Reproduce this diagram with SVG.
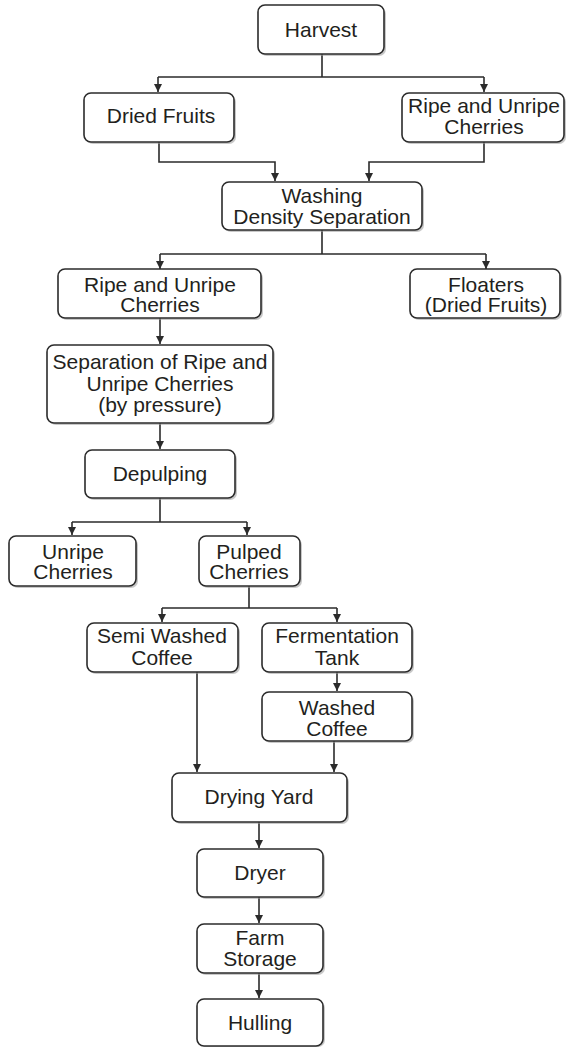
<svg xmlns="http://www.w3.org/2000/svg" width="569" height="1048" viewBox="0 0 569 1048">
<defs>
<style>
.box{fill:#fff;stroke:#2b2b2b;stroke-width:1.6}
.sh{fill:#9a9a9a;opacity:0.55}
.t{font-family:"Liberation Sans",Arial,sans-serif;font-size:21px;fill:#231f20;text-anchor:middle}
.c{fill:none;stroke:#2b2b2b;stroke-width:1.6}
</style>
<marker id="ah" viewBox="0 0 8 8" refX="8" refY="4" markerWidth="8" markerHeight="8" markerUnits="userSpaceOnUse" orient="auto">
<path d="M0,0 L8,4 L0,8 z" fill="#2b2b2b"/>
</marker>
</defs>
<rect width="569" height="1048" fill="#fff"/>
<g id="connectors">
<path class="c" d="M322,54 V77 M158,77 H484"/>
<path class="c" d="M158,77 V92" marker-end="url(#ah)"/>
<path class="c" d="M484,77 V92" marker-end="url(#ah)"/>
<path class="c" d="M159,142 V162 H275 V181" marker-end="url(#ah)"/>
<path class="c" d="M484,142 V162 H369 V181" marker-end="url(#ah)"/>
<path class="c" d="M322,230 V254 M160,254 H486"/>
<path class="c" d="M160,254 V269" marker-end="url(#ah)"/>
<path class="c" d="M486,254 V269" marker-end="url(#ah)"/>
<path class="c" d="M160,318 V344" marker-end="url(#ah)"/>
<path class="c" d="M160,423 V449" marker-end="url(#ah)"/>
<path class="c" d="M160,498 V522 M72,522 H247"/>
<path class="c" d="M72,522 V535" marker-end="url(#ah)"/>
<path class="c" d="M247,522 V535" marker-end="url(#ah)"/>
<path class="c" d="M249,586 V608 M162,608 H337"/>
<path class="c" d="M162,608 V622" marker-end="url(#ah)"/>
<path class="c" d="M337,608 V622" marker-end="url(#ah)"/>
<path class="c" d="M337,672 V691" marker-end="url(#ah)"/>
<path class="c" d="M197,672 V772" marker-end="url(#ah)"/>
<path class="c" d="M334,741 V772" marker-end="url(#ah)"/>
<path class="c" d="M259,822 V848" marker-end="url(#ah)"/>
<path class="c" d="M259,897 V923" marker-end="url(#ah)"/>
<path class="c" d="M259,973 V998" marker-end="url(#ah)"/>
</g>
<g id="harvest"><rect class="sh" x="260" y="7" width="126" height="49" rx="7"/><rect class="box" x="258" y="5" width="126" height="49" rx="7"/><text class="t" x="321" y="37">Harvest</text></g>
<g id="dried-fruits"><rect class="sh" x="86" y="95" width="150" height="49" rx="7"/><rect class="box" x="84" y="93" width="150" height="49" rx="7"/><text class="t" x="161" y="123">Dried Fruits</text></g>
<g id="ripe-unripe-1"><rect class="sh" x="404" y="95" width="162" height="49" rx="7"/><rect class="box" x="402" y="93" width="162" height="49" rx="7"/><text class="t" x="484" y="113">Ripe and Unripe</text><text class="t" x="484" y="134">Cherries</text></g>
<g id="washing"><rect class="sh" x="224" y="184" width="200" height="48" rx="7"/><rect class="box" x="222" y="182" width="200" height="48" rx="7"/><text class="t" x="322" y="203">Washing</text><text class="t" x="322" y="224">Density Separation</text></g>
<g id="ripe-unripe-2"><rect class="sh" x="60" y="271" width="203" height="49" rx="7"/><rect class="box" x="58" y="269" width="203" height="49" rx="7"/><text class="t" x="160" y="292">Ripe and Unripe</text><text class="t" x="160" y="312">Cherries</text></g>
<g id="floaters"><rect class="sh" x="412" y="271" width="150" height="49" rx="7"/><rect class="box" x="410" y="269" width="150" height="49" rx="7"/><text class="t" x="486" y="292">Floaters</text><text class="t" x="486" y="312">(Dried Fruits)</text></g>
<g id="separation"><rect class="sh" x="49" y="347" width="226" height="78" rx="7"/><rect class="box" x="47" y="345" width="226" height="78" rx="7"/><text class="t" x="160" y="369">Separation of Ripe and</text><text class="t" x="160" y="391">Unripe Cherries</text><text class="t" x="160" y="412">(by pressure)</text></g>
<g id="depulping"><rect class="sh" x="87" y="452" width="150" height="48" rx="7"/><rect class="box" x="85" y="450" width="150" height="48" rx="7"/><text class="t" x="160" y="481">Depulping</text></g>
<g id="unripe-cherries"><rect class="sh" x="11" y="538" width="127" height="50" rx="7"/><rect class="box" x="9" y="536" width="127" height="50" rx="7"/><text class="t" x="73" y="559">Unripe</text><text class="t" x="73" y="579">Cherries</text></g>
<g id="pulped-cherries"><rect class="sh" x="201" y="538" width="101" height="50" rx="7"/><rect class="box" x="199" y="536" width="101" height="50" rx="7"/><text class="t" x="249" y="559">Pulped</text><text class="t" x="249" y="579">Cherries</text></g>
<g id="semi-washed"><rect class="sh" x="89" y="625" width="151" height="49" rx="7"/><rect class="box" x="87" y="623" width="151" height="49" rx="7"/><text class="t" x="162" y="643">Semi Washed</text><text class="t" x="162" y="665">Coffee</text></g>
<g id="fermentation"><rect class="sh" x="264" y="625" width="150" height="49" rx="7"/><rect class="box" x="262" y="623" width="150" height="49" rx="7"/><text class="t" x="337" y="643">Fermentation</text><text class="t" x="337" y="665">Tank</text></g>
<g id="washed-coffee"><rect class="sh" x="264" y="694" width="150" height="49" rx="7"/><rect class="box" x="262" y="692" width="150" height="49" rx="7"/><text class="t" x="337" y="715">Washed</text><text class="t" x="337" y="736">Coffee</text></g>
<g id="drying-yard"><rect class="sh" x="174" y="775" width="175" height="49" rx="7"/><rect class="box" x="172" y="773" width="175" height="49" rx="7"/><text class="t" x="259" y="804">Drying Yard</text></g>
<g id="dryer"><rect class="sh" x="199" y="851" width="126" height="48" rx="7"/><rect class="box" x="197" y="849" width="126" height="48" rx="7"/><text class="t" x="260" y="880">Dryer</text></g>
<g id="farm-storage"><rect class="sh" x="199" y="926" width="126" height="49" rx="7"/><rect class="box" x="197" y="924" width="126" height="49" rx="7"/><text class="t" x="260" y="945">Farm</text><text class="t" x="260" y="966">Storage</text></g>
<g id="hulling"><rect class="sh" x="199" y="1001" width="126" height="46" rx="7"/><rect class="box" x="197" y="999" width="126" height="47" rx="7"/><text class="t" x="260" y="1030">Hulling</text></g>
</svg>
